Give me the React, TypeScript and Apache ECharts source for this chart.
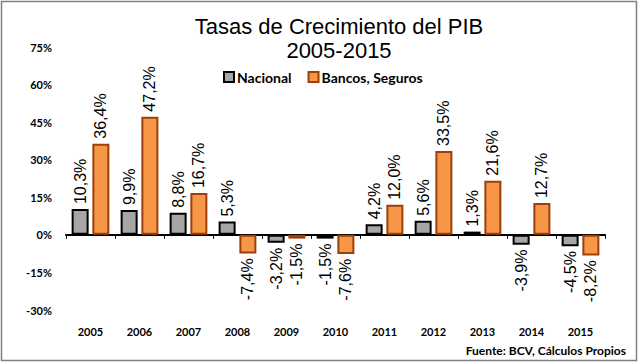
import React, { useEffect, useRef } from "react";
import * as echarts from "echarts";

const categories = ["2005", "2006", "2007", "2008", "2009", "2010", "2011", "2012", "2013", "2014", "2015"];
const nacional = [10.3, 9.9, 8.8, 5.3, -3.2, -1.5, 4.2, 5.6, 1.3, -3.9, -4.5];
const bancos = [36.4, 47.2, 16.7, -7.4, -1.5, -7.6, 12.0, 33.5, 21.6, 12.7, -8.2];
const titleLines = ["Tasas de Crecimiento del PIB", "2005-2015"];
const sourceText = "Fuente: BCV, Cálculos Propios";

const fmt = (v: number) => v.toFixed(1).replace(".", ",") + "%";

const labelFont = { fontFamily: "Liberation Sans", fontSize: 16, color: "#000" };

const grayStyle = { color: "#a6a6a6", borderColor: "#000000", borderWidth: 2 };
const orangeStyle = { color: "#f79646", borderColor: "#9c3f0a", borderWidth: 2 };

function toData(values: number[]) {
  return values.map((v) => ({
    value: v,
    label: v >= 0
      ? { show: true, position: "top", rotate: 90, align: "left", verticalAlign: "middle", distance: 5, formatter: () => fmt(v), ...labelFont }
      : { show: true, position: "bottom", rotate: 90, align: "right", verticalAlign: "middle", distance: 5, formatter: () => fmt(v), ...labelFont },
  }));
}

export default function App() {
  const ref = useRef<HTMLDivElement>(null);
  useEffect(() => {
    if (!ref.current) return;
    const chart = echarts.init(ref.current, null, { renderer: "svg" });
    chart.setOption({
      animation: false,
      backgroundColor: "#fff",
      title: {
        text: titleLines.join("\n"),
        left: 334,
        textAlign: "center",
        top: 9,
        textStyle: { fontFamily: "Liberation Sans", fontSize: 22, fontWeight: "normal", color: "#000", lineHeight: 24 },
      },
      legend: {
        top: 65,
        left: 218,
        itemWidth: 10,
        itemHeight: 10,
        itemGap: 16,
        icon: "rect",
        textStyle: { fontFamily: "Lato", fontWeight: "bold", fontSize: 14, color: "#000", padding: [0, 0, 0, -2] },
        data: ["Nacional", "Bancos, Seguros"],
      },
      graphic: [
        {
          type: "rect",
          shape: { x: 1.5, y: 1.5, width: 635, height: 359 },
          style: { fill: "none", stroke: "#808080", lineWidth: 1.5 },
          silent: true,
        },
        {
          type: "text",
          right: 14,
          top: 344,
          style: { text: sourceText, fontFamily: "Lato", fontWeight: "bold", fontSize: 12, fill: "#000" },
        },
      ],
      grid: { left: 66, right: 35, top: 47, bottom: 54 },
      xAxis: [
        {
          type: "category",
          data: categories,
          axisLine: { onZero: true, lineStyle: { color: "#000", width: 2 } },
          axisTick: { show: true, length: 4, lineStyle: { color: "#000", width: 1 } },
          axisLabel: { show: false },
        },
        {
          type: "category",
          data: categories,
          position: "bottom",
          axisLine: { show: false, onZero: false },
          axisTick: { show: false },
          axisLabel: { show: true, margin: 16, fontFamily: "Lato", fontWeight: "bold", fontSize: 11, color: "#000" },
        },
      ],
      yAxis: {
        type: "value",
        min: -30,
        max: 75,
        interval: 15,
        splitLine: { show: false },
        axisLine: { show: false },
        axisTick: { show: false },
        axisLabel: { margin: 14, formatter: (v: number) => v + "%", fontFamily: "Lato", fontWeight: "bold", fontSize: 11, color: "#000" },
      },
      series: [
        {
          name: "Nacional",
          type: "bar",
          xAxisIndex: 0,
          barWidth: 17,
          barGap: "22%",
          itemStyle: grayStyle,
          data: toData(nacional),
        },
        {
          name: "Bancos, Seguros",
          type: "bar",
          xAxisIndex: 0,
          barWidth: 17,
          itemStyle: orangeStyle,
          data: toData(bancos),
        },
      ],
    });
    return () => chart.dispose();
  }, []);
  return <div ref={ref} style={{ position: "absolute", left: 0, top: 0, width: 640, height: 364 }} />;
}
